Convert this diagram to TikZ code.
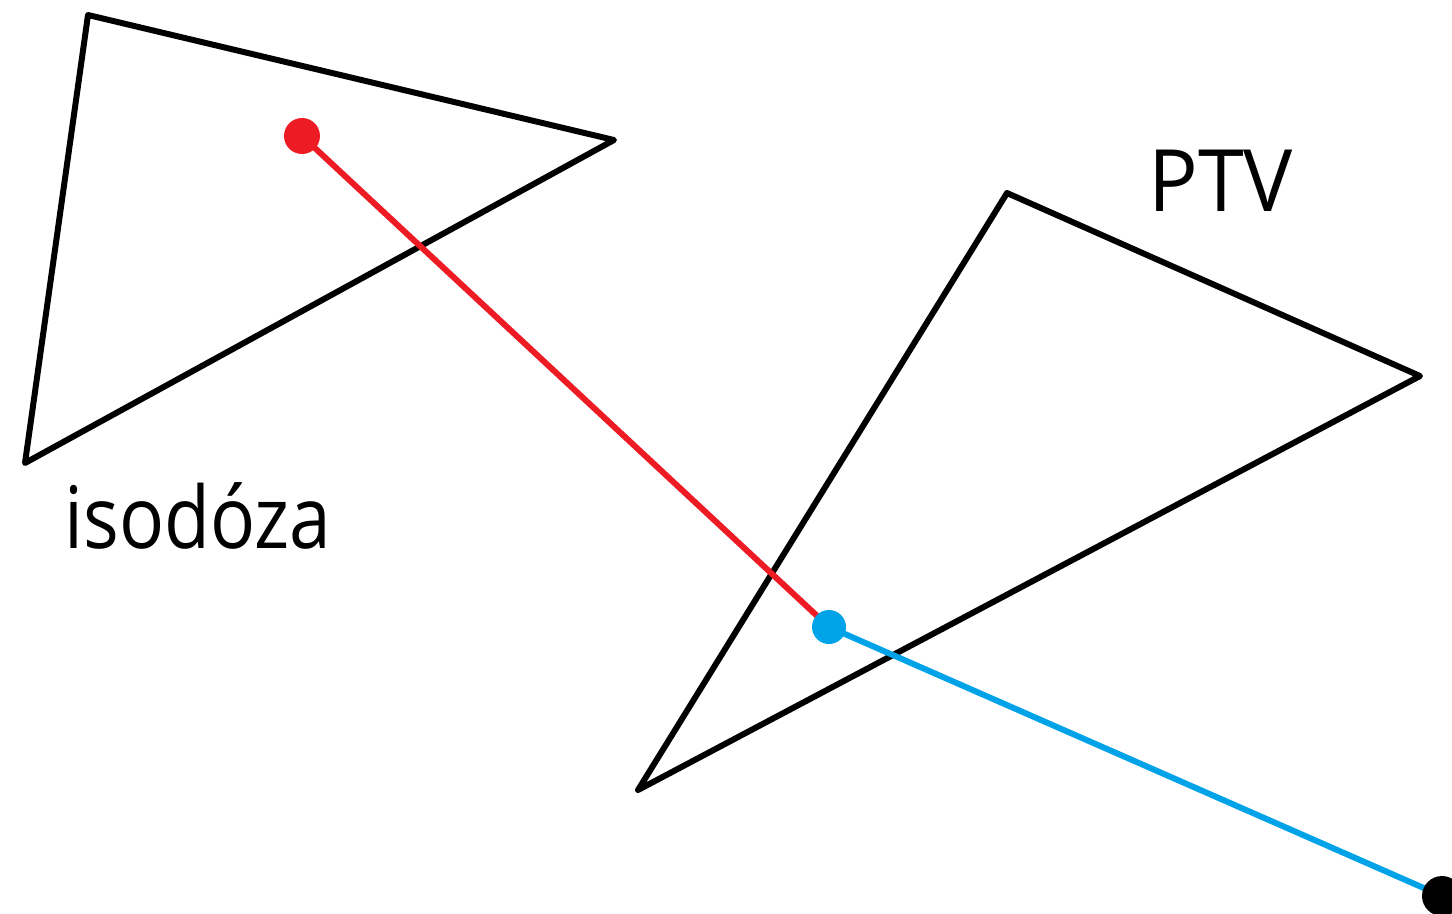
\documentclass[tikz,border=0pt]{standalone}
\usepackage{fontspec}
\setmainfont{Open Sans}
\newfontfamily\isofont[FakeStretch=0.87]{Open Sans}
\newfontfamily\ptvfont[FakeStretch=0.96]{Open Sans}
\definecolor{pred}{HTML}{ED1C24}
\definecolor{pblue}{HTML}{00A2E8}
\begin{document}
\begin{tikzpicture}[x=0.02cm,y=-0.02cm,
  tri/.style={draw=black,line width=3.4pt,line join=round},
  lbl/.style={anchor=base west,inner sep=0pt,font=\fontsize{49}{58}\selectfont},
  dot/.style={circle,inner sep=0pt,minimum size=#1*0.04cm}]
\useasboundingbox (0,0) rectangle (1452,913);
\draw[tri] (88,15) -- (614,140) -- (25,463) -- cycle;
\draw[tri] (1007,193) -- (1420,376) -- (638,790) -- cycle;
\coordinate (r) at (302,136);
\coordinate (b) at (829,627);
\coordinate (k) at (1442,896);
\draw[pred,line width=3.4pt] (r) -- (b);
\draw[pblue,line width=3.4pt] (b) -- (k);
\node[dot=18,fill=pred] (rd) at (r) {};
\node[dot=17,fill=pblue] (bd) at (b) {};
\node[dot=20,fill=black] (kd) at (k) {};
\node[lbl] (ptv) at (1148,211) {\ptvfont PTV};
\node[lbl] (iso) at (64,548) {\isofont isodóza};
\end{tikzpicture}
\end{document}
